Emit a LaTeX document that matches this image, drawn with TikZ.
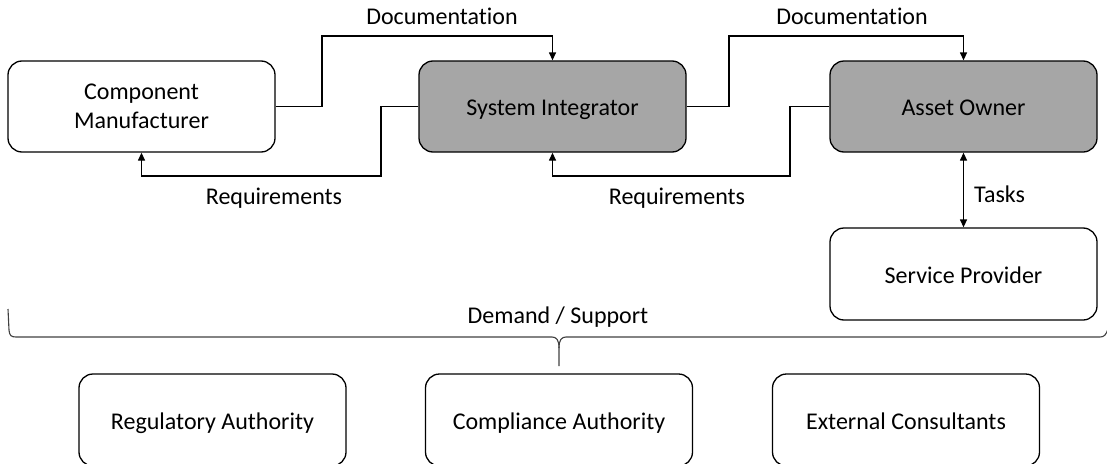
\documentclass[tikz,border=0pt]{standalone}
\usepackage{fontspec}
\setmainfont{Carlito}[RawFeature={-liga}]
\usetikzlibrary{arrows.meta}
\definecolor{boxgray}{HTML}{A6A6A6}
\definecolor{bracegray}{HTML}{404040}
\begin{document}
\begin{tikzpicture}[x=1pt,y=-1pt,
  font=\fontsize{24}{29}\selectfont,
  party/.style={draw, line width=1.3pt, rounded corners=14pt,
    minimum width=267pt, minimum height=91pt, align=center, inner sep=0pt},
  oneline/.style={text height=19pt, text depth=1pt},
  lead/.style={party, oneline, fill=boxgray},
  flow/.style={line width=1.3pt, -{Triangle[length=8pt,width=7pt]}},
  twoway/.style={line width=1.3pt, {Triangle[length=8pt,width=7pt]}-{Triangle[length=8pt,width=7pt]}},
  lbl/.style={anchor=base, inner sep=0pt}]
  \useasboundingbox (0,0) rectangle (1107,463);
  \clip (0,0) rectangle (1107,463);

  % main chain of parties
  \node[party] (cm) at (141.5,106.5) {Component\\Manufacturer};
  \node[lead]  (si) at (552.5,106.5) {System Integrator};
  \node[lead]  (ao) at (963.5,106.5) {Asset Owner};
  \node[party, oneline, minimum height=92pt] (sp) at (963.5,274) {Service Provider};

  % supporting bodies
  \node[party, oneline, minimum height=92pt] (reg)  at (212.5,420) {Regulatory Authority};
  \node[party, oneline, minimum height=92pt] (comp) at (559,420)   {Compliance Authority};
  \node[party, oneline, minimum height=92pt] (ext)  at (906,420)   {External Consultants};

  % bend points of the elbow connectors
  \coordinate (d1) at (322,36);
  \coordinate (d2) at (729,36);
  \coordinate (r1) at (381,176);
  \coordinate (r2) at (790,176);

  \draw[flow] (cm.east) -| (d1) -| (si.north);
  \draw[flow] (si.west) -| (r1) -| (cm.south);
  \draw[flow] (si.east) -| (d2) -| (ao.north);
  \draw[flow] (ao.west) -| (r2) -| (si.south);
  \draw[twoway] (ao.south) -- (sp.north);

  % connector labels
  \node[lbl] (doc1) at (442,24) {Documentation};
  \node[lbl] (doc2) at (852,24) {Documentation};
  \node[lbl] (req1) at (274,204) {Requirements};
  \node[lbl] (req2) at (677,204) {Requirements};
  \node[lbl, anchor=base west] (tasks) at (974,202) {Tasks};

  % brace grouping everything above the supporting bodies
  \coordinate (bracetip) at (559,366);
  \draw[bracegray, line width=1.1pt]
    (8,309) -- (9,330) .. controls (9.5,335.5) and (11,337) .. (16,337)
    -- (552,337) .. controls (556.5,337) and (559,340) .. (559,348)
    -- (bracetip);
  \draw[bracegray, line width=1.1pt]
    (559,348) .. controls (559,340) and (561.5,337) .. (566,337)
    -- (1100,337) .. controls (1104,337) and (1106,335) .. (1108,329);
  \node[lbl] (ds) at (558,323) {Demand / Support};
\end{tikzpicture}
\end{document}
